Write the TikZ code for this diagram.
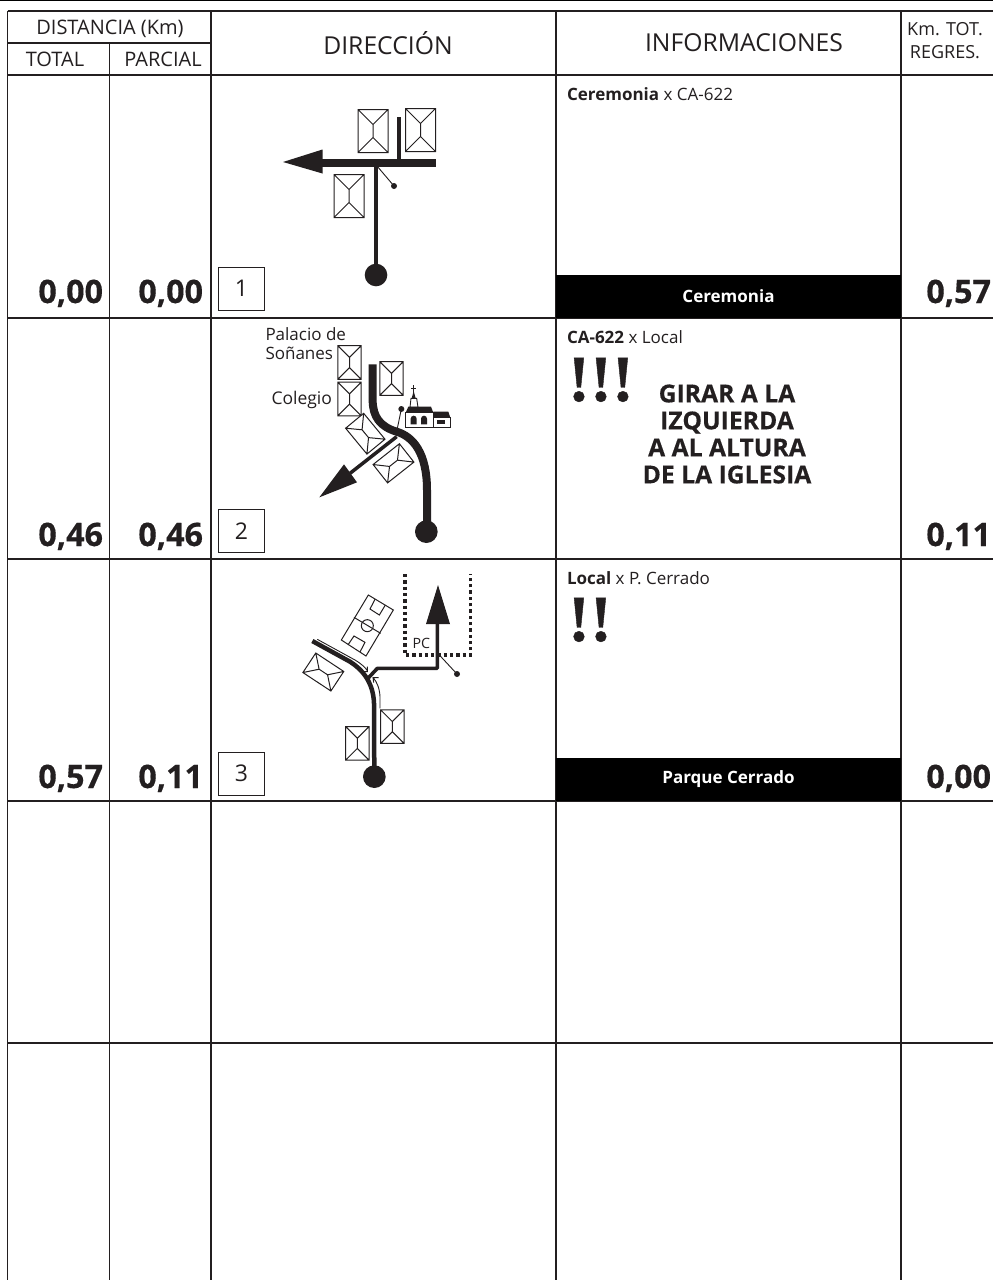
\documentclass[tikz,border=0pt]{standalone}
\usepackage{fontspec}
\setmainfont{Open Sans}
\newfontfamily\excfont[BoldFeatures={FakeBold=0.6}]{Liberation Serif}
\newfontfamily\heavy[BoldFeatures={FakeBold=0.35}]{Open Sans}
\definecolor{ink}{HTML}{231F20}
\tikzset{
 x=1pt,y=-1pt,
 grid/.style={draw=ink,line width=1.5pt},
 txt/.style={inner sep=0pt,outer sep=0pt,text=ink,align=center},
 big/.style={txt,font=\heavy\fontsize{32.3}{32}\selectfont\bfseries,anchor=base east},
 info/.style={txt,font=\fontsize{17}{17}\selectfont,anchor=base west},
 numbox/.style={draw=ink,line width=1pt,fill=white,minimum width=46pt,minimum height=43pt,inner sep=0pt,font=\fontsize{23}{23}\selectfont,text=ink},
 bar/.style={fill=black,text=white,minimum width=345pt,minimum height=43pt,inner sep=0pt,font=\fontsize{17}{17}\selectfont\bfseries},
 exc/.style={txt,font=\excfont\fontsize{66}{66}\selectfont\bfseries,anchor=base west},
 road/.style={draw=ink,line cap=butt,line join=round},
 thin/.style={draw=ink,line width=.9pt},
 house/.pic={\draw[ink,line width=1pt,fill=white] (-15,-21.5) rectangle (15,21.5)
   (-15,-21.5) -- (0,-6.5) -- (15,-21.5) (0,-6.5) -- (0,6.5) (-15,21.5) -- (0,6.5) -- (15,21.5);},
}
\newcommand{\ptr}[2]{\draw[thin] #1 -- #2; \fill[ink] #2 circle (3);}
\begin{document}
\begin{tikzpicture}
\useasboundingbox (0,0) rectangle (993,1280);
\fill[white] (0,0) rectangle (993,1280);
% table
\draw[draw=black,line width=1.4pt] (0,.5) -- (993,.5);
\draw[grid] (7.5,11) -- (993,11);
\draw[grid] (7.5,11) -- (7.5,1280);
\draw[grid] (7.5,43) -- (211,43);
\draw[grid] (7.5,75) -- (993,75);
\draw[grid] (7.5,318) -- (993,318);
\draw[grid] (7.5,559) -- (993,559);
\draw[grid] (7.5,801) -- (993,801);
\draw[grid] (7.5,1043) -- (993,1043);
\draw[grid] (109.5,43) -- (109.5,1280);
\draw[grid] (211,11) -- (211,1280);
\draw[grid] (556,11) -- (556,1280);
\draw[grid] (901,11) -- (901,1280);
% headers
\node[txt,font=\fontsize{20}{20}\selectfont] (hdist) at (110,29) {DISTANCIA (Km)};
\node[txt,font=\fontsize{20}{20}\selectfont] (htot) at (55,59) {TOTAL};
\node[txt,font=\fontsize{20}{20}\selectfont] (hpar) at (163,59) {PARCIAL};
\node[txt,font=\fontsize{24.7}{24}\selectfont] (hdir) at (388,43) {DIRECCIÓN};
\node[txt,font=\fontsize{24.7}{24}\selectfont] (hinf) at (744,43) {INFORMACIONES};
\node[txt,font=\fontsize{18}{18}\selectfont] (hkm) at (945,29) {Km. TOT.};
\node[txt,font=\fontsize{18}{18}\selectfont] (hreg) at (945,52) {REGRES.};
% numbers
\node[big] (a1) at (103,303) {0,00};
\node[big] (b1) at (203,303) {0,00};
\node[big] (c1) at (991,303) {0,57};
\node[big] (a2) at (103,546) {0,46};
\node[big] (b2) at (203,546) {0,46};
\node[big] (c2) at (991,546) {0,11};
\node[big] (a3) at (103,788) {0,57};
\node[big] (b3) at (203,788) {0,11};
\node[big] (c3) at (991,788) {0,00};
\node[numbox] (n1) at (241.5,288.5) {1};
\node[numbox] (n2) at (241.5,531) {2};
\node[numbox] (n3) at (241.5,773.5) {3};
% info
\node[info] (i1) at (567,100) {\textbf{Ceremonia} x CA-622};
\node[info] (i2) at (567,343) {\textbf{CA-622} x Local};
\node[info] (i3) at (567,584) {\textbf{Local} x P. Cerrado};
\node[bar] (b1bar) at (728.5,296.5) {Ceremonia};
\node[bar] (b3bar) at (728.5,779.5) {Parque Cerrado};
\node[exc] (e2) at (568,401) {!!!};
\node[exc] (e3) at (568,641) {!!};
\node[txt,font=\heavy\fontsize{24.7}{27}\selectfont\bfseries] (gir) at (727,434) {GIRAR A LA\\IZQUIERDA\\A AL ALTURA\\DE LA IGLESIA};
% panel 1
\pic at (373,131) {house};
\pic at (420.5,130) {house};
\pic at (349,196) {house};
\coordinate (p1a) at (376,275);
\coordinate (p1b) at (376,163);
\draw[road,line width=4.5pt] (p1a) -- (p1b);
\draw[road,line width=4pt] (399,117) -- (399,165);
\draw[road,line width=8pt] (435.5,163) -- (320,163);
\fill[ink] (283,162) -- (322.5,149.5) -- (322.5,173.5) -- cycle;
\fill[ink] (p1a) circle (11.3);
\ptr{(377,166)}{(394,186)}
% panel 2
\pic[scale=.78] at (349.5,362.5) {house};
\pic[scale=.78] at (349.5,399) {house};
\pic[scale=.78] at (391.5,378.5) {house};
\pic[scale=.78,rotate=39.5] at (365.3,433.7) {house};
\pic[scale=.78,rotate=-51.7] at (393.5,463.3) {house};
\node[txt,font=\fontsize{17}{17}\selectfont,anchor=base west] (pal) at (265.5,340) {Palacio de};
\node[txt,font=\fontsize{17}{17}\selectfont,anchor=base west] (son) at (265.5,359.5) {Soñanes};
\node[txt,font=\fontsize{17.5}{17}\selectfont,anchor=base west] (col) at (271.5,404.5) {Colegio};
\begin{scope}[shift={(240,320)},x=.33333pt,y=-.33333pt]
\draw[road,line width=8pt] (561,630) -- (561,510) .. controls (561,400) and (520,350) .. (470,335) .. controls (420,320) and (398,290) .. (398,240) -- (398,133);
\draw[road,line width=3.5pt] (470,350) -- (330,460);
\fill[ink] (238,532) -- (312,433) -- (351,487) -- cycle;
\fill[ink] (559,635) circle (34);
\draw[thin] (470,335) -- (484,267);
\fill[ink] (484,267) circle (9);
% church
\draw[ink,line width=.9pt,fill=white] (510,262) -- (513,235) -- (530,235) -- (534,262) -- cycle;
\draw[ink,line width=1pt] (521,195) -- (521,235) (514,205) -- (528,205);
\fill[ink] (515,235) -- (521,213) -- (527,235) -- cycle;
\draw[ink,line width=.9pt,fill=white] (497,278) rectangle (580,322);
\draw[ink,line width=.9pt,fill=white] (580,293) rectangle (631,322);
\fill[ink] (497,278) -- (505,260) -- (573,260) -- (580,278) -- cycle;
\fill[ink] (580,275) -- (625,275) -- (631,293) -- (580,293) -- cycle;
\fill[ink] (512,313) -- (512,296) arc[start angle=180,end angle=360,radius=9] -- (530,313) -- cycle;
\fill[ink] (543,313) -- (543,296) arc[start angle=180,end angle=360,radius=9] -- (561,313) -- cycle;
\fill[ink] (592,300) rectangle (614,312);
\end{scope}
% panel 3
\pic[scale=.78] at ({280+232/3},{560+550/3}) {house};
\pic[scale=.78] at ({280+337/3},{560+500/3}) {house};
\pic[scale=.78,rotate=56.6] at ({280+130/3},{560+336/3}) {house};
\begin{scope}[shift={(280,560)},x=.33333pt,y=-.33333pt]
\draw[road,line width=4.5pt] (283,650) -- (282,430) .. controls (280,370) and (250,330) .. (210,305) -- (97,243);
\draw[road,line width=3.6pt] (262,357) -- (292,325) -- (472,325) -- (472,190);
\fill[ink] (474,75) -- (438,192) -- (510,192) -- cycle;
\fill[ink] (283,650) circle (34);
\draw[ink,line width=3.3pt,dash pattern=on 3.3pt off 3pt] (375,42) -- (375,285) -- (572,285) -- (572,42);
\node[txt,font=\fontsize{14.2}{14}\selectfont] (pc) at (424,250) {PC};
\draw[thin] (478,285) -- (531,342);
\fill[ink] (531,342) circle (9);
\draw[thin] (112,238) -- (225,300) .. controls (245,312) and (255,322) .. (262,332) (262,320) -- (262,335) -- (246,335);
\draw[thin] (300,445) -- (300,410) .. controls (299,385) and (290,365) .. (281,355) (281,368) -- (279,353) -- (296,353);
% pitch
\draw[ink,line width=1pt] (265,105) -- (340,150) -- (258,288) -- (184,240) -- cycle;
\draw[ink,line width=1pt] (222,172) -- (302,220);
\draw[ink,line width=1pt] (262,197) circle (18);
\draw[ink,line width=1pt] (285,118) -- (270,147) -- (298,165) -- (316,135);
\draw[ink,line width=1pt] (205,253) -- (222,228) -- (255,247) -- (240,276);
\end{scope}
\end{tikzpicture}
\end{document}
